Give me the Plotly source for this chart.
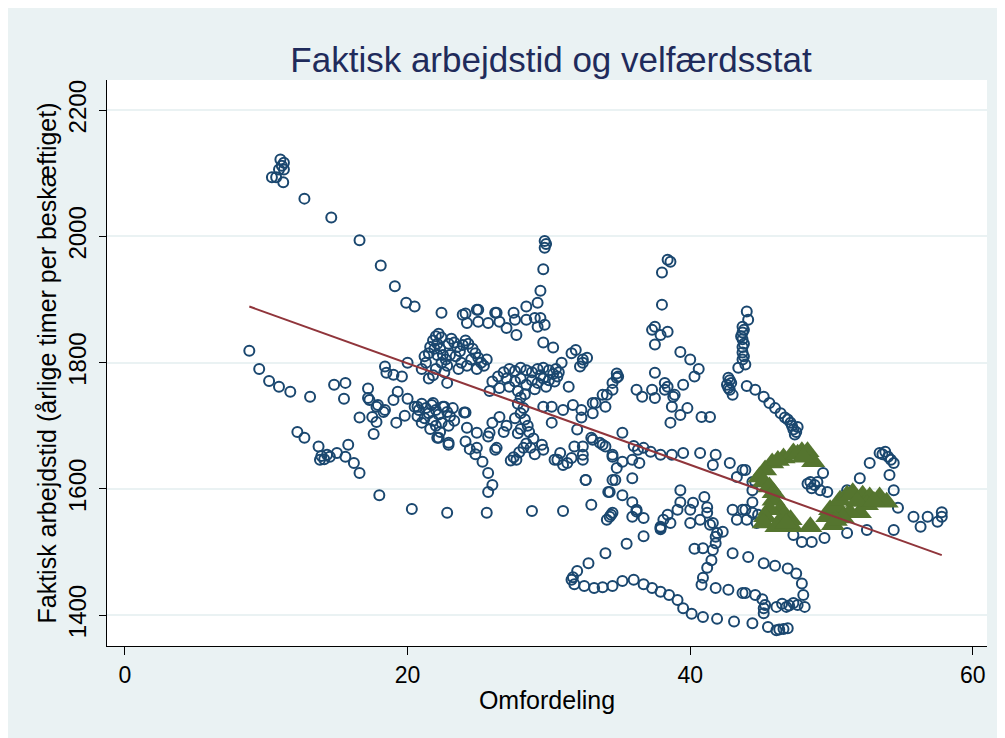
import plotly.graph_objects as go

# Omfordeling (x) / faktisk arbejdstid (y) for all country-years
omf_x = [
    # upper-left chain
    10.4, 10.7, 11.0, 11.25, 11.25, 11.2, 10.9, 11.1, 12.7, 14.6, 16.6, 18.1, 19.1, 19.9, 20.5, 22.4, 24.1, 25.0, 26.2,
    # left low chains
    8.8, 9.5, 10.2, 10.9, 11.7, 13.1, 14.8, 15.6, 15.5,
    12.2, 12.7, 13.7, 13.8, 14.3, 15.0, 14.5, 15.8, 15.6, 16.2, 16.6, 13.9, 14.1,
    18.0, 20.3, 22.8, 25.6, 28.8, 31.0,
    17.2, 17.3, 17.8, 18.3, 16.6, 17.5, 17.8, 17.6, 18.4, 18.5, 19.0, 19.6, 20.0, 19.3, 19.0, 20.0, 19.2, 19.8,
    17.2, 17.9, 18.4,
    # dense upper cluster
    21.3, 21.5, 21.6, 21.8, 22.0, 22.2, 22.4, 22.1, 22.3, 22.5, 22.7, 22.9, 23.1, 23.3, 23.5, 23.7, 23.9, 24.1,
    24.3, 24.6, 24.8, 25.0, 25.2, 25.4, 25.6, 23.0, 22.8, 22.6, 22.0, 21.8, 21.5, 21.0, 21.2, 22.4, 23.4, 23.8,
    24.2, 24.5, 24.9, 23.6, 22.1, 21.9,
    # dense lower-left cluster
    20.5, 20.8, 21.0, 21.3, 21.5, 21.7, 22.0, 22.2, 22.5, 22.8, 23.0, 23.2, 21.2, 21.8, 22.4, 22.9, 23.3, 21.6,
    22.3, 22.0, 21.0, 20.7, 20.7, 21.8, 22.6, 22.8, 22.2, 22.9, 22.1, 22.9,
    # top row
    23.9, 24.9, 25.0, 25.7, 26.3, 26.5, 27.5, 27.6, 28.4, 28.4, 29.0, 29.4, 29.7, 29.2, 27.0, 27.7, 24.2,
    29.7, 29.8, 29.7, 29.6, 29.4, 29.2,
    # middle cluster
    26.0, 26.4, 26.8, 27.2, 27.6, 28.0, 28.4, 28.8, 29.2, 29.6, 30.0, 30.3, 30.6, 30.4, 30.0, 29.6, 29.2, 28.8,
    28.4, 28.0, 27.6, 27.2, 27.8, 28.3, 29.0, 29.8, 30.5, 30.7, 29.4, 27.0, 26.5, 25.8,
    # vertical chain
    28.0, 27.8, 28.2, 28.0, 27.6, 28.3, 28.5, 28.0, 27.8, 28.6, 28.9, 28.4, 28.2, 27.9, 27.5, 27.3, 28.7, 29.0,
    27.0, 26.8,
    24.0, 24.2, 24.9, 25.7, 26.2, 24.1, 24.9, 25.3, 25.7, 26.0, 25.7, 24.4, 24.8, 26.3, 26.0, 26.5, 25.8, 24.1,
    # right of middle
    29.6, 30.2, 31.0, 31.7, 32.3, 33.1, 33.8, 34.5, 34.9, 30.2, 32.0, 32.3, 33.0, 33.6, 34.0, 34.5, 32.4, 31.8,
    32.6, 34.3, 34.7, 29.6, 30.8, 30.6, 31.0, 31.6, 29.5, 30.4, 31.3, 27.7,
    31.4, 31.6, 31.9, 32.4, 30.9, 30.3, 29.6, 32.2, 32.7, 32.4, 34.8, 34.8, 34.5, 34.1, 33.3, 33.1, 34.0,
    # 35-41
    38.0, 37.3, 37.5, 38.4, 37.9, 37.5, 39.3, 40.0, 40.6, 40.3, 39.5, 38.9, 38.7, 39.3, 38.6, 39.8, 40.8, 41.4,
    37.5, 38.2, 38.2, 37.5, 37.3, 36.2, 36.6, 38.4, 38.6, 38.0, 35.2, 38.4, 38.8,
    # vertical chain ~44
    44.0, 44.1, 43.7, 43.7, 43.7, 43.7, 43.7, 43.7, 43.9, 43.4, 43.8, 43.6, 43.8, 43.8,
    42.7, 42.9, 42.8, 43.0, 42.6, 42.8, 42.7,
    44.0, 44.6, 45.2, 45.6, 46.0, 46.4, 46.7, 47.1, 47.3, 47.4, 46.9, 47.2, 47.5, 47.6,
    # along the fit line
    33.1, 33.8, 32.4, 32.4, 34.5, 35.2, 35.9, 36.4, 34.8, 35.9, 34.5, 32.6, 36.7, 37.2, 37.9, 38.7, 39.5, 40.7,
    41.8, 41.6, 42.8, 43.7, 43.3, 44.4, 39.3, 36.0, 36.3,
    # lower region
    33.0, 34.1, 34.5, 34.2, 35.2, 35.9, 36.2, 36.7, 35.9, 37.9, 38.4, 39.1, 39.3, 40.0, 40.2, 41.0, 41.2, 41.2,
    41.6, 41.9, 40.7, 40.0, 43.0, 43.7, 44.4, 43.3, 38.1, 34.3, 34.4, 36.2, 37.9, 41.4, 42.3, 41.8, 41.8, 40.9,
    40.3, 41.6, 41.5, 41.2, 40.9, 40.8, 43.0, 44.1,
    34.0, 35.5, 36.7, 37.9, 38.6,
    # bottom loop
    32.8, 32.0, 31.6, 31.8, 32.5, 33.2, 33.8, 34.5, 35.2, 36.0, 36.7, 37.3, 37.9, 38.5, 39.1, 39.5, 40.1, 40.9,
    41.9, 43.1, 44.4, 31.7, 41.8, 42.7, 43.7,
    # right region
    43.9, 44.6, 44.4, 43.9, 44.4, 44.0, 44.8, 44.7,
    48.5, 49.0, 49.4, 49.7, 48.6, 48.8, 49.2, 48.3,
    47.3, 47.9, 48.6, 49.5, 51.1, 52.5, 54.4,
    52.0, 52.7, 53.4, 53.8, 54.0, 54.4, 54.1, 54.4, 54.7, 51.1, 55.8, 56.3, 56.8, 57.5, 57.8, 57.8, 53.6, 54.2,
    45.2, 46.0, 46.9, 47.5, 47.9, 48.0, 48.1, 47.3, 46.8, 46.1, 45.3, 45.2, 43.9, 44.6, 45.5, 46.1, 46.6,
    46.9, 46.3, 47.0, 47.6, 46.5, 45.1, 45.2,
]
arb_y = [
    2094, 2094, 2122, 2117, 2106, 2086, 2106, 2112, 2060, 2030, 1994, 1954, 1921, 1895, 1889, 1879, 1878, 1884, 1879,
    1819, 1790, 1771, 1762, 1754, 1746, 1765, 1768, 1743,
    1690, 1681, 1667, 1646, 1654, 1657, 1651, 1670, 1651, 1641, 1625, 1652, 1647,
    1590, 1568, 1562, 1562, 1565, 1565,
    1759, 1741, 1730, 1722, 1713, 1714, 1706, 1687, 1794, 1784, 1781, 1778, 1800, 1754, 1741, 1743, 1705, 1716,
    1744, 1733, 1725,
    1800, 1815, 1825, 1835, 1842, 1846, 1840, 1830, 1822, 1812, 1805, 1830, 1838, 1832, 1825, 1818, 1828, 1835,
    1830, 1822, 1815, 1808, 1800, 1795, 1805, 1812, 1795, 1785, 1790, 1780, 1775, 1790, 1810, 1800, 1810, 1800,
    1795, 1805, 1790, 1790, 1812, 1822,
    1730, 1725, 1735, 1728, 1720, 1733, 1725, 1718, 1730, 1722, 1715, 1728, 1712, 1708, 1705, 1700, 1708, 1695,
    1690, 1700, 1705, 1715, 1730, 1736, 1730, 1768, 1681, 1673, 1681, 1670,
    1876, 1884, 1865, 1863, 1879, 1865, 1879, 1868, 1889, 1868, 1871, 1871, 1860, 1857, 1855, 1844, 1863,
    1993, 1988, 1982, 1948, 1914, 1895,
    1770, 1778, 1785, 1790, 1787, 1792, 1788, 1785, 1790, 1792, 1788, 1782, 1778, 1770, 1772, 1775, 1768, 1772,
    1765, 1775, 1770, 1762, 1755, 1750, 1758, 1762, 1790, 1785, 1780, 1775, 1760, 1755,
    1745, 1735, 1728, 1720, 1712, 1710, 1700, 1695, 1688, 1690, 1680, 1672, 1665, 1658, 1650, 1645, 1665, 1655,
    1700, 1690,
    1721, 1697, 1689, 1683, 1662, 1675, 1665, 1643, 1625, 1606, 1595, 1663, 1655, 1665, 1705, 1714, 1689, 1721,
    1730, 1730, 1725, 1733, 1725, 1736, 1749, 1768, 1778, 1705, 1694, 1713, 1681, 1673, 1667, 1651, 1654, 1667,
    1614, 1595, 1614, 1662, 1657, 1646, 1638, 1649, 1670, 1646, 1641, 1646,
    1762, 1815, 1820, 1805, 1800, 1824, 1832, 1794, 1808, 1800, 1776, 1783, 1757, 1749, 1736, 1720, 1730,
    1892, 1852, 1857, 1849, 1844, 1829, 1817, 1805, 1790, 1778, 1765, 1749, 1730, 1717, 1705, 1728, 1714, 1714,
    1784, 1768, 1757, 1744, 1757, 1757, 1746, 1963, 1960, 1943, 1689, 1762, 1746,
    1881, 1868, 1857, 1848, 1837, 1825, 1816, 1805, 1797, 1792, 1852, 1842, 1830, 1810,
    1776, 1768, 1757, 1749, 1765, 1772, 1760,
    1763, 1757, 1746, 1736, 1728, 1720, 1713, 1705, 1694, 1686, 1710, 1700, 1690, 1698,
    1678, 1670, 1667, 1646, 1654, 1643, 1646, 1641, 1633, 1617, 1614, 1614, 1665, 1659, 1654, 1654, 1657, 1657,
    1654, 1638, 1641, 1630, 1619, 1611, 1598, 1668, 1662,
    1575, 1551, 1562, 1595, 1590, 1579, 1567, 1554, 1556, 1538, 1559, 1567, 1579, 1567, 1578, 1587, 1571, 1562,
    1546, 1530, 1551, 1546, 1567, 1567, 1562, 1551, 1551, 1556, 1559, 1564, 1540, 1543, 1532, 1524, 1514, 1506,
    1505, 1503, 1487, 1475, 1459, 1448, 1498, 1492,
    1498, 1513, 1525, 1536, 1546,
    1482, 1470, 1456, 1449, 1446, 1443, 1444, 1446, 1454, 1456, 1449, 1443, 1437, 1432, 1424, 1411, 1402, 1397,
    1394, 1390, 1387, 1460, 1443, 1440, 1435,
    1630, 1611, 1598, 1567, 1579, 1551, 1559, 1546,
    1611, 1611, 1625, 1595, 1601, 1606, 1598, 1608,
    1527, 1516, 1516, 1522, 1530, 1535, 1535,
    1617, 1641, 1657, 1659, 1651, 1641, 1622, 1598, 1570, 1598, 1556, 1540, 1556, 1548, 1563, 1556, 1655, 1646,
    1482, 1478, 1474, 1466, 1450, 1432, 1413, 1419, 1413, 1413, 1416, 1403, 1435, 1432, 1381, 1376, 1378,
    1379, 1377, 1415, 1416, 1418, 1425, 1411,
]

# highlighted observations (triangles)
tri_x = [45.8, 46.6, 47.3, 47.9, 48.3, 45.3, 44.9, 45.2, 45.6, 45.9, 45.9, 46.4, 46.6, 47.1, 47.2, 45.6, 45.3,
         45.2, 46.1, 48.5, 46.2, 47.6, 48.7, 48.0, 46.8,
         49.7, 49.9, 50.4, 50.6, 51.1, 51.5, 52.2, 52.7, 53.4, 53.9, 52.0, 51.3, 50.8, 50.1, 50.3, 52.5, 51.8, 53.0]
tri_y = [1641, 1649, 1657, 1659, 1659, 1630, 1619, 1611, 1603, 1594, 1582, 1567, 1556, 1551, 1540, 1567, 1556,
         1546, 1540, 1540, 1645, 1655, 1643, 1650, 1545,
         1556, 1567, 1571, 1582, 1590, 1594, 1590, 1587, 1587, 1579, 1562, 1562, 1554, 1543, 1550, 1575, 1580, 1580]

# linear fit endpoints
fit_x = [8.8, 57.8]
fit_y = [1889, 1495]

BG = "#eaf2f3"
FONT = "Liberation Sans, Arial, sans-serif"

fig = go.Figure()
fig.add_trace(go.Scatter(
    x=omf_x, y=arb_y, mode="markers", name="obs",
    marker=dict(symbol="circle-open", size=10, color="#1a476f", line=dict(width=2, color="#1a476f")),
))
fig.add_trace(go.Scatter(
    x=tri_x, y=tri_y, mode="markers", name="tri",
    marker=dict(symbol="triangle-up", size=21, color="#55752f", line=dict(width=0)),
))
fig.add_trace(go.Scatter(
    x=fit_x, y=fit_y, mode="lines", name="fit",
    line=dict(color="#90353b", width=2),
))

fig.update_layout(
    width=1005, height=738,
    showlegend=False,
    paper_bgcolor=BG,
    plot_bgcolor="white",
    font=dict(family=FONT, size=22, color="black"),
    margin=dict(l=99, r=26, t=72, b=100),
    title=dict(
        text="Faktisk arbejdstid og velfærdsstat",
        font=dict(family=FONT, size=35, color="#1f2b5b"),
        x=543 / 1005, xanchor="center",
        y=1 - 52 / 738, yanchor="middle",
    ),
    xaxis=dict(
        range=[-1.27, 61.0],
        tickvals=[0, 20, 40, 60],
        showgrid=False, zeroline=False,
        showline=True, linecolor="black", linewidth=1,
        ticks="outside", ticklen=8, tickcolor="black",
        ticklabelstandoff=0,
        tickfont=dict(size=23),
        title=dict(text="Omfordeling", font=dict(size=25), standoff=4),
    ),
    yaxis=dict(
        range=[1351, 2248],
        tickvals=[1400, 1600, 1800, 2000, 2200],
        showgrid=True, gridcolor=BG, gridwidth=2,
        zeroline=False,
        showline=True, linecolor="black", linewidth=1,
        ticks="outside", ticklen=7, tickcolor="black",
        tickangle=-90,
        ticklabelstandoff=3,
        tickfont=dict(size=24),
        title=dict(text="Faktisk arbejdstid (årlige timer per beskæftiget)", font=dict(size=25), standoff=0),
    ),
)

fig.write_html("out.html")
